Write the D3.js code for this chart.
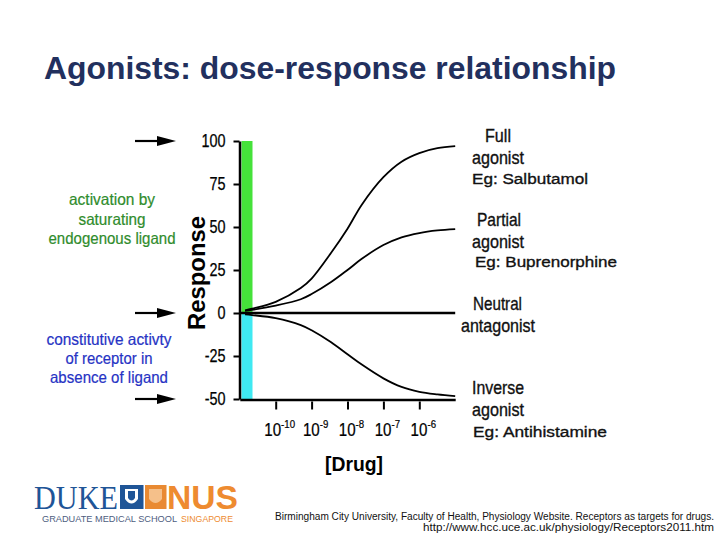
<!DOCTYPE html>
<html><head><meta charset="utf-8">
<script src="https://cdn.jsdelivr.net/npm/d3@7"></script>
<style>body{margin:0;background:#fff}svg{display:block}</style>
</head><body><svg id="c" width="720" height="540"></svg>
<script>
// ---- data ----
const doses = [1.4e-11, 2.2e-11, 1e-10, 5e-10, 1e-9, 3.5e-9, 1e-8, 2.5e-8, 1e-7, 3.2e-7, 1e-6, 3.2e-6, 1e-5];
const fullAgonist    = [1.5, 2.5, 6.5, 14.5, 20, 35, 49, 63, 79, 88, 93, 95.8, 97];
const partialAgonist = [1.2, 1.8, 4.3, 8, 11, 18, 25, 31.5, 39.5, 44, 46.5, 48, 48.8];
const inverseAgonist = [-0.8, -1.2, -3, -7, -10, -17, -24, -30, -38, -43, -45.8, -47.3, -48.3];
const neutralDoses = [1e-11, 1e-5];
const neutralAntagonist = [0, 0];
const yTicks = [100, 75, 50, 25, 0, -25, -50];
const yTickLabels = ["100", "75", "50", "25", "0", "-25", "-50"];
const xTicks = [1e-10, 1e-9, 1e-8, 1e-7, 1e-6];
const xTickExp = ["-10", "-9", "-8", "-7", "-6"];
const bandRanges = [[0, 100], [-50, 0]];
const arrowValues = [100, 0, -50];
const title = "Agonists: dose-response relationship";
const labelFull = ["Full", "agonist", "Eg: Salbutamol"];
const labelPartial = ["Partial", "agonist", "Eg: Buprenorphine"];
const labelNeutral = ["Neutral", "antagonist"];
const labelInverse = ["Inverse", "agonist", "Eg: Antihistamine"];
const noteGreen = ["activation by", "saturating", "endogenous ligand"];
const noteBlue = ["constitutive activty", "of receptor in", "absence of ligand"];
const citation = ["Birmingham City University, Faculty of Health, Physiology Website. Receptors as targets for drugs.",
                  "http://www.hcc.uce.ac.uk/physiology/Receptors2011.htm"];

// ---- drawing ----
const svg = d3.select("#c");
const x = d3.scaleLog().domain([1e-11, 1e-5]).range([239.8, 455.2]);
const y = d3.scaleLinear().domain([-50, 100]).range([399, 141]);
const narrow = "'Liberation Sans', Arial, sans-serif";

function fitText(sel, w) { sel.attr("textLength", w).attr("lengthAdjust", "spacingAndGlyphs"); }

// title
svg.append("text").attr("x", 44).attr("y", 79).text(title)
  .attr("font-family", "'Liberation Sans', Arial, sans-serif").attr("font-weight", "bold")
  .attr("font-size", 32).attr("fill", "#22305e").call(fitText, 572);

// bands
const bandColors = ["#45e23a", "#3fe9f2"];
svg.selectAll("rect.band").data(bandRanges).join("rect").attr("class", "band")
  .attr("x", 241.5).attr("width", 11)
  .attr("y", d => y(d[1])).attr("height", d => y(d[0]) - y(d[1]))
  .attr("fill", (d, i) => bandColors[i]);

// axes
const gy = svg.append("g").attr("transform", "translate(239.5,0)")
  .call(d3.axisLeft(y).tickValues(yTicks).tickSize(6).tickSizeOuter(0).tickPadding(8)
    .tickFormat((d, i) => yTickLabels[i]));
gy.select(".domain").attr("stroke-width", 2.5).attr("stroke", "#000");
gy.selectAll(".tick line").attr("stroke-width", 2);
gy.selectAll(".tick text").attr("font-family", narrow).attr("font-size", 18).attr("fill", "#000")
  .attr("stroke", "#000").attr("stroke-width", 0.25)
  .each(function () { const w = this.getComputedTextLength(); d3.select(this).call(fitText, w * 0.8); });

const gx = svg.append("g").attr("transform", "translate(0,399.5)")
  .call(d3.axisBottom(x).tickValues(xTicks).tickSize(9).tickSizeOuter(0).tickFormat(""));
gx.select(".domain").attr("stroke-width", 2.5).attr("stroke", "#000");
gx.selectAll(".tick line").attr("stroke-width", 2).attr("y1", 2).attr("y2", 10);
gx.selectAll(".tick").each(function (d, i) {
  const t = d3.select(this).append("text").attr("x", 3.5).attr("y", 36.5).attr("text-anchor", "middle")
    .attr("font-family", narrow).attr("fill", "#000").attr("stroke", "#000").attr("stroke-width", 0.22);
  t.append("tspan").attr("font-size", 18).text("10");
  t.append("tspan").attr("font-size", 11.5).attr("dy", -8).text(xTickExp[i]);
  const w = t.node().getComputedTextLength();
  t.call(fitText, w * 0.84);
});

// axis titles
svg.append("text").attr("transform", "translate(205,273) rotate(-90)").attr("text-anchor", "middle")
  .attr("font-family", narrow).attr("font-weight", "bold").attr("font-size", 24).text("Response").call(fitText, 114);
svg.append("text").attr("x", 354).attr("y", 471).attr("text-anchor", "middle")
  .attr("font-family", narrow).attr("font-weight", "bold").attr("font-size", 20).text("[Drug]").call(fitText, 58);

// curves
const line = d3.line().x(d => x(d[0])).y(d => y(d[1])).curve(d3.curveCatmullRom.alpha(0.5));
[fullAgonist, partialAgonist, inverseAgonist].forEach(s => {
  svg.append("path").attr("d", line(doses.map((dd, i) => [dd, s[i]])))
    .attr("fill", "none").attr("stroke", "#000").attr("stroke-width", 1.8);
});
svg.append("path").attr("d", line(neutralDoses.map((dd, i) => [dd, neutralAntagonist[i]])))
  .attr("fill", "none").attr("stroke", "#000").attr("stroke-width", 2.6);

// arrows
arrowValues.forEach(v => {
  const yy = y(v);
  svg.append("line").attr("x1", 135).attr("x2", 160).attr("y1", yy).attr("y2", yy)
    .attr("stroke", "#000").attr("stroke-width", 2.2);
  svg.append("path").attr("d", `M157,${yy - 5}L176,${yy}L157,${yy + 5}Z`).attr("fill", "#000");
});

// left notes
function notes(lines, xc, ys, widths, color) {
  lines.forEach((t, i) => {
    svg.append("text").attr("x", xc).attr("y", ys[i]).attr("text-anchor", "middle")
      .attr("font-family", narrow).attr("font-size", 16.5).attr("fill", color)
      .attr("stroke", color).attr("stroke-width", 0.2).text(t).call(fitText, widths[i]);
  });
}
notes(noteGreen, 112, [205, 224.5, 243.5], [86, 67, 127], "#2f8c2c");
notes(noteBlue, 109, [345, 364, 383], [125, 87, 118], "#2633c4");

// right labels
function rlabels(lines, specs) {
  lines.forEach((t, i) => {
    const s = specs[i];
    svg.append("text").attr("x", s[0]).attr("y", s[1]).attr("font-family", narrow)
      .attr("font-size", s[3]).attr("fill", "#111").attr("stroke", "#111").attr("stroke-width", 0.35)
      .text(t).call(fitText, s[2]);
  });
}
rlabels(labelFull, [[485, 142, 26, 18.5], [472, 164, 52, 18.5], [472, 184, 116, 15.5]]);
rlabels(labelPartial, [[477, 226, 44, 18.5], [472, 248, 52, 18.5], [475, 267, 142, 15.5]]);
rlabels(labelNeutral, [[473, 310, 49, 18.5], [461, 332, 74, 18.5]]);
rlabels(labelInverse, [[472, 394, 52, 18.5], [472, 416, 52, 18.5], [473, 437, 134, 15.5]]);

// logo
svg.append("text").attr("x", 34).attr("y", 509).attr("font-family", "'Liberation Serif', 'DejaVu Serif', serif")
  .attr("font-size", 34).attr("fill", "#1f5597").text("DUKE").call(fitText, 84);
svg.append("rect").attr("x", 120).attr("y", 485).attr("width", 23.5).attr("height", 24).attr("fill", "#1f5597");
svg.append("path").attr("d", "M125,489 L138,489 L138,499 Q131.5,508 125,499 Z").attr("fill", "#fff");
svg.append("path").attr("d", "M128,491 L135,491 L135,498 Q131.5,503 128,498 Z").attr("fill", "#1f5597");
svg.append("rect").attr("x", 145).attr("y", 485).attr("width", 21.5).attr("height", 24).attr("fill", "#e98a32");
svg.append("path").attr("d", "M149,489 L162,489 L162,499 Q155.5,507 149,499 Z").attr("fill", "#f5c08a");
svg.append("text").attr("x", 167).attr("y", 509).attr("font-family", "'Liberation Sans', Arial, sans-serif")
  .attr("font-weight", "bold").attr("font-size", 33).attr("fill", "#ee8b30").text("NUS").call(fitText, 71);
svg.append("text").attr("x", 42).attr("y", 522).attr("font-family", "'Liberation Sans', Arial, sans-serif")
  .attr("font-size", 8.5).attr("fill", "#4d5d80").text("GRADUATE MEDICAL SCHOOL").call(fitText, 135);
svg.append("text").attr("x", 181).attr("y", 522).attr("font-family", "'Liberation Sans', Arial, sans-serif")
  .attr("font-size", 8.5).attr("fill", "#ee8b30").text("SINGAPORE").call(fitText, 52);

// citation
citation.forEach((t, i) => {
  svg.append("text").attr("x", 714).attr("y", 520 + i * 11).attr("text-anchor", "end")
    .attr("font-family", "'Liberation Sans', Arial, sans-serif").attr("font-size", 10).attr("fill", "#111")
    .text(t).call(fitText, i === 0 ? 439 : 291);
});
</script></body></html>
